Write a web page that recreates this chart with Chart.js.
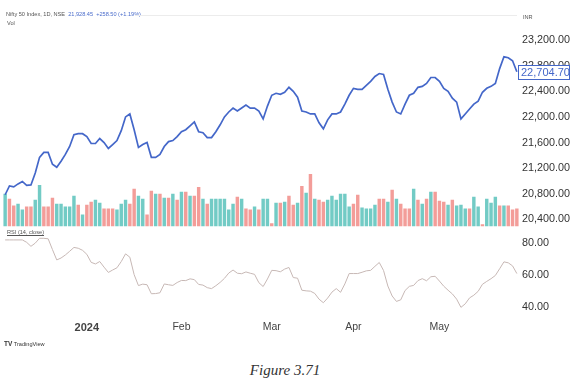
<!DOCTYPE html>
<html>
<head>
<meta charset="utf-8">
<title>Nifty 50 Index, 1D</title>
<script src="https://cdn.jsdelivr.net/npm/chart.js@4.4.1/dist/chart.umd.min.js"></script>
<style>
  html, body { margin: 0; padding: 0; background: #ffffff; }
  body { width: 570px; height: 382px; position: relative; overflow: hidden; font-family: 'Liberation Sans', Arial, sans-serif; }
  #chart { position: absolute; left: 0; top: 0; }
  .tiny { position: absolute; font-size: 5.6px; color: #555; white-space: nowrap; }
  .tiny .blue { color: #4a6ccb; }
  .rule { position: absolute; height: 1px; background: #ececec; }
  .caption { position: absolute; left: 0; width: 570px; top: 362px; text-align: center; font-family: 'Liberation Serif', 'DejaVu Serif', serif; font-style: italic; font-size: 15px; color: #333; }
</style>
</head>
<body>
<canvas id="chart" width="570" height="336"></canvas>

<div class="tiny" style="left:6px; top:11px;">Nifty 50 Index, 1D, NSE&nbsp; <span class="blue">21,928.45&nbsp; +258.50 (+1.19%)</span></div>
<div class="tiny" style="left:7px; top:20px;">Vol</div>
<div class="rule" style="left:135px; top:15px; width:382px;"></div>
<div class="tiny" style="left:523px; top:14px;">INR</div>
<div class="tiny" style="left:7px; top:229px; text-decoration: underline;">RSI (14, close)</div>
<div class="tiny" style="left:4px; top:340px; color:#333;"><b style="font-size:6.5px;">TV</b> TradingView</div>
<div class="caption">Figure 3.71</div>

<script>
// Daily closes, Dec 2023 - 29 May 2024
const closes = [
  20785, 20923, 20908, 20954, 20992, 20931, 20938, 21123, 21369, 21446,
  21446, 21262, 21215, 21308, 21415, 21538, 21723, 21738, 21738, 21692,
  21585, 21585, 21662, 21600, 21508, 21569, 21631, 21785, 22000, 22046,
  21800, 21523, 21569, 21600, 21369, 21369, 21415, 21538, 21615, 21631,
  21692, 21769, 21800, 21862, 21923, 21769, 21754, 21677, 21677, 21769,
  21877, 22000, 22077, 22138, 22092, 22138, 22185, 22138, 22138, 22092,
  21969, 22169, 22338, 22369, 22354, 22385, 22462, 22400, 22308, 22092,
  22077, 22046, 22046, 21908, 21815, 21954, 22046, 22046, 22077, 22200,
  22338, 22446, 22431, 22431, 22492, 22554, 22631, 22677, 22662, 22431,
  22231, 22077, 22046, 22200, 22338, 22369, 22462, 22477, 22523, 22615,
  22615, 22554, 22446, 22400, 22292, 22231, 21969, 22046, 22123, 22200,
  22246, 22385, 22446, 22477, 22523, 22754, 22938, 22923, 22877, 22704.70
];

// Volume (relative units) and whether the session closed up (1) or down (0)
const volumes = [
  33, 28, 21, 23, 17, 20, 20, 27, 42, 20,
  20, 29, 23, 23, 20, 20, 31, 22, 12, 22,
  25, 27, 24, 18, 18, 18, 17, 23, 27, 23,
  38, 31, 28, 12, 36, 33, 33, 29, 29, 33,
  27, 35, 35, 31, 31, 40, 28, 23, 28, 28,
  28, 28, 17, 23, 30, 28, 18, 17, 20, 17,
  28, 28, 3, 24, 24, 25, 31, 22, 24, 41,
  34, 53, 28, 27, 25, 27, 31, 27, 33, 33,
  20, 23, 32, 19, 18, 18, 22, 28, 28, 25,
  37, 28, 23, 18, 18, 38, 27, 23, 28, 35,
  35, 26, 25, 22, 27, 21, 22, 18, 18, 30,
  20, 2, 28, 24, 30, 21, 21, 21, 17, 18
];
const volUp = [
  1, 0, 0, 1, 1, 0, 0, 1, 1, 0,
  0, 0, 1, 1, 1, 1, 1, 0, 1, 0,
  0, 1, 1, 0, 0, 0, 1, 1, 1, 0,
  0, 1, 1, 0, 0, 1, 0, 1, 0, 1,
  0, 1, 0, 1, 0, 0, 1, 0, 1, 1,
  1, 1, 1, 1, 0, 1, 0, 0, 1, 0,
  1, 1, 0, 1, 0, 1, 0, 0, 1, 0,
  1, 0, 1, 0, 0, 1, 1, 1, 1, 1,
  1, 0, 0, 1, 1, 1, 1, 0, 0, 1,
  0, 1, 0, 0, 0, 1, 0, 1, 0, 1,
  0, 0, 0, 1, 0, 1, 1, 1, 0, 1,
  1, 0, 1, 1, 1, 0, 1, 0, 0, 0
];

// RSI (14, close)
const rsi = [
  82, 82, 82, 82, 82, 80.5, 78, 80, 83, 83,
  82.7, 76, 69.5, 70.7, 72.6, 74.9, 77.3, 76.8, 75.5, 73,
  68, 67, 68.5, 65, 61.7, 63.2, 64.6, 68.5, 73.3, 71.2,
  60.3, 53.5, 54.4, 54, 48.4, 48.5, 49, 54.5, 54, 53.6,
  55.4, 56.7, 56.6, 57.7, 57.2, 54.2, 53.8, 52.2, 51.6, 53.4,
  55.5, 58, 61.3, 63.2, 61.2, 60.9, 62, 61.2, 60.5, 55.3,
  52.9, 57.6, 63, 62.8, 62.1, 63.8, 64.8, 58.5, 58.1, 50.6,
  50.2, 50, 48.6, 45, 42.8, 45.7, 49.4, 51.6, 49.3, 54.5,
  61, 61, 61, 61.8, 62.7, 63, 65.5, 67.9, 62.9, 53.2,
  47, 43.6, 44.6, 50.4, 53, 53.6, 56.6, 57.8, 56.5, 59,
  59.3, 56.3, 53.1, 50.6, 48.3, 45, 39.9, 42.1, 45.8, 47.5,
  49.9, 54.3, 56.1, 57.8, 59.8, 64, 68.3, 67.7, 65.8, 61
];

// Axis ticks
const priceTicks = [20400, 20800, 21200, 21600, 22000, 22400, 22800, 23200];
const rsiTicks = [40, 60, 80];
const monthLabels = ['2024', 'Feb', 'Mar', 'Apr', 'May'];
const monthStartIdx = [19, 41, 62, 81, 101];

const sessions = closes.map((_, i) => i);

const BLUE = '#4467c9';
const TEAL = '#72cbc5';
const RED = '#f39d99';
const AXIS_TEXT = '#333333';

Chart.defaults.font.family = "'Liberation Sans', Arial, sans-serif";

const fmt2 = v => v.toLocaleString('en-US', { minimumFractionDigits: 2, maximumFractionDigits: 2 });

// Blue tag with the last close on the price scale
const lastValueTag = {
  id: 'lastValueTag',
  afterDraw(chart) {
    const yP = chart.scales.yP;
    const last = closes[closes.length - 1];
    const y = Math.round(yP.getPixelForValue(last));
    const c = chart.ctx;
    c.save();
    c.fillStyle = '#ffffff';
    c.fillRect(yP.left - 1, y - 7, 52, 15);
    c.strokeStyle = BLUE;
    c.lineWidth = 1;
    c.strokeRect(yP.left - 0.5, y - 6.5, 51, 14);
    c.fillStyle = BLUE;
    c.font = "11px 'Liberation Sans', Arial, sans-serif";
    c.textBaseline = 'middle';
    c.fillText(fmt2(last), yP.left + 2, y + 1);
    c.restore();
  }
};

new Chart(document.getElementById('chart').getContext('2d'), {
  data: {
    labels: sessions,
    datasets: [
      {
        type: 'line',
        label: 'Nifty 50',
        data: closes,
        yAxisID: 'yP',
        borderColor: BLUE,
        borderWidth: 1.7,
        pointRadius: 0,
        tension: 0,
        order: 1
      },
      {
        type: 'line',
        label: 'RSI (14, close)',
        data: rsi,
        yAxisID: 'yR',
        borderColor: '#c7b8b5',
        borderWidth: 1,
        pointRadius: 0,
        tension: 0,
        order: 2
      },
      {
        type: 'bar',
        label: 'Vol',
        data: volumes,
        yAxisID: 'yV',
        backgroundColor: volUp.map(u => (u ? TEAL : RED)),
        barPercentage: 0.8,
        categoryPercentage: 1,
        order: 3
      }
    ]
  },
  options: {
    responsive: false,
    animation: false,
    layout: { padding: { top: 5, left: 3, right: 0, bottom: 0 } },
    plugins: {
      legend: { display: false },
      tooltip: { enabled: false }
    },
    scales: {
      x: {
        offset: true,
        grid: { display: false, drawTicks: false },
        border: { display: false },
        ticks: {
          autoSkip: false,
          maxRotation: 0,
          padding: 5,
          color: '#444444',
          font: ctx => (ctx.tick && ctx.tick.label === '2024' ? { size: 11, weight: 'bold' } : { size: 10.5 }),
          callback: function (val, i) {
            const k = monthStartIdx.indexOf(i);
            return k >= 0 ? monthLabels[k] : null;
          }
        },
        afterFit: s => { s.height = 20; }
      },
      yP: {
        position: 'right',
        stack: 'panes',
        stackWeight: 226,
        min: 20200,
        max: 23677,
        grid: { display: false, drawTicks: false },
        border: { display: false },
        ticks: { padding: 3, color: AXIS_TEXT, font: { size: 10.8 }, callback: v => fmt2(v) },
        afterBuildTicks: s => { s.ticks = priceTicks.map(v => ({ value: v })); },
        afterFit: s => { s.width = 51; }
      },
      yR: {
        position: 'right',
        stack: 'panes',
        stackWeight: 85,
        min: 34.5,
        max: 86.8,
        grid: { display: false, drawTicks: false },
        border: { display: false },
        ticks: { padding: 3, color: AXIS_TEXT, font: { size: 10.8 }, callback: v => fmt2(v) },
        afterBuildTicks: s => { s.ticks = rsiTicks.map(v => ({ value: v })); },
        afterFit: s => { s.width = 51; }
      },
      yV: {
        position: 'right',
        display: false,
        min: -91,
        max: 220
      }
    }
  },
  plugins: [lastValueTag]
});
</script>
</body>
</html>
